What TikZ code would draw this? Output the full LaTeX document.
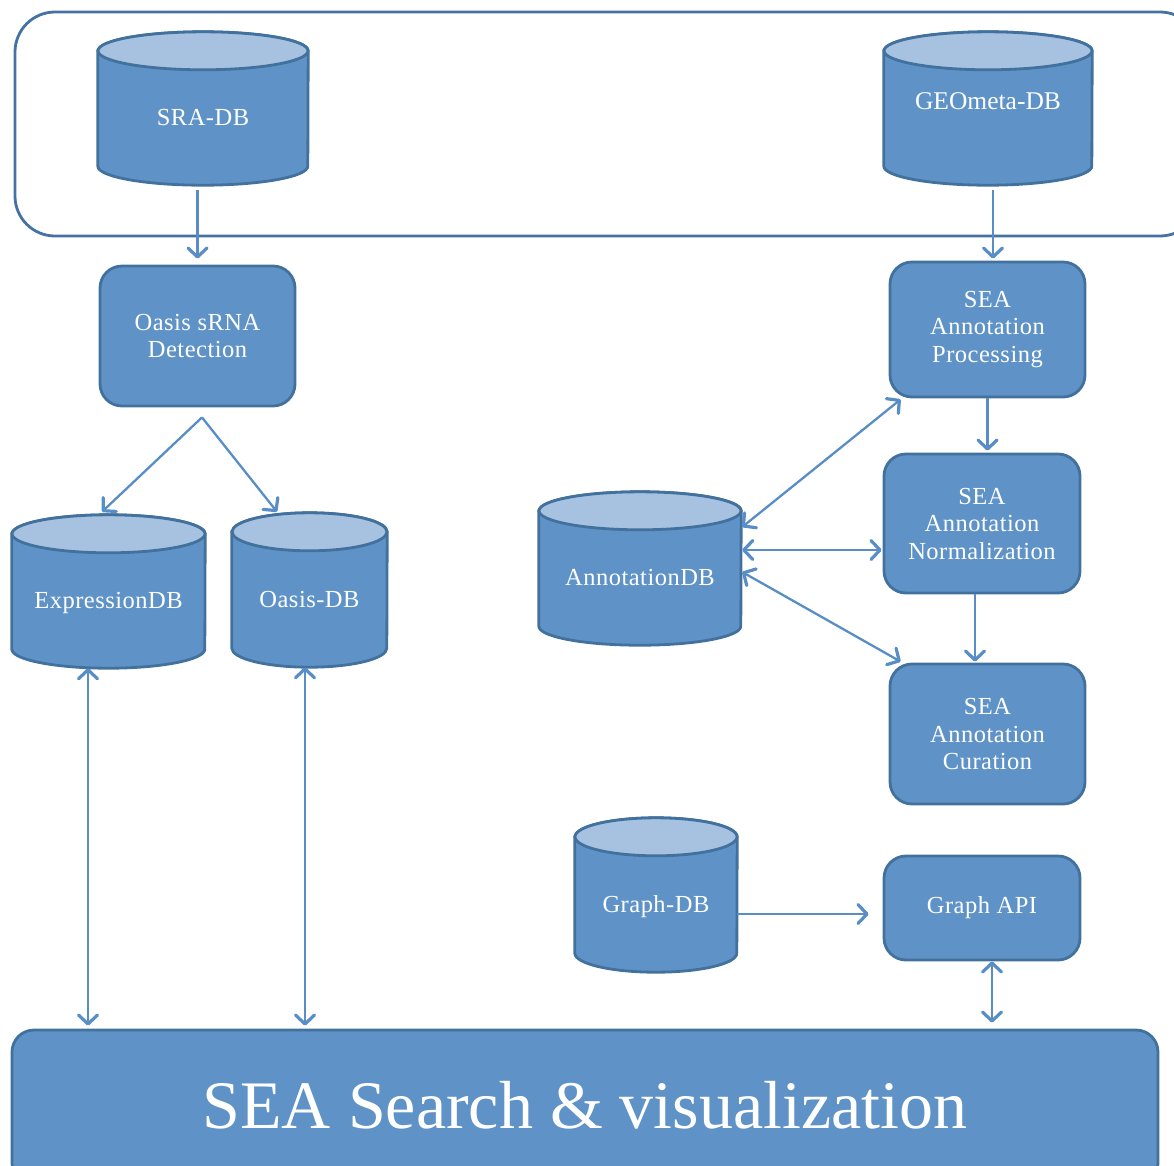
\documentclass[tikz,border=0pt]{standalone}
\usepackage{fontspec}
\setmainfont{Liberation Serif}
\newfontfamily\boxfont[LetterSpace=2]{Liberation Serif}
\usetikzlibrary{arrows.meta,backgrounds,calc}

\definecolor{bodyblue}{RGB}{95,147,199}
\definecolor{edgeblue}{RGB}{65,113,156}
\definecolor{capblue}{RGB}{167,193,224}
\definecolor{linkblue}{RGB}{88,141,198}
\definecolor{frameblue}{RGB}{68,114,163}

% cylinder outline behind a database node: #1 node name, #2 half width
\newcommand\dbdrum[2]{%
  \path[drumside] ([yshift=-19pt]#1.north west) -- ([yshift=19pt]#1.south west)
    arc[start angle=180, end angle=360, x radius=#2, y radius=19pt]
    -- ([yshift=-19pt]#1.north east)
    arc[start angle=0, end angle=180, x radius=#2, y radius=19pt] -- cycle;
  \path[drumcap] ([yshift=-19pt]#1.north) ellipse[x radius=#2, y radius=19pt];
}

\begin{document}
\begin{tikzpicture}[x=1pt,y=-1pt,
  every node/.style={text=white},
  stage/.style={draw=edgeblue, line width=2.8pt, fill=bodyblue,
    rounded corners=22pt, inner sep=0pt, align=center,
    font=\boxfont\fontsize{24.5}{27.5}\selectfont},
  db/.style={inner sep=0pt, text height=34pt, text depth=0pt,
    font=\boxfont\fontsize{24.5}{27.5}\selectfont},
  drumside/.style={draw=edgeblue, line width=2.8pt, fill=bodyblue},
  drumcap/.style={draw=edgeblue, line width=2.8pt, fill=capblue},
  barb/.tip={Straight Barb[length=9pt, width=19pt, line width=3.2pt, round]},
  link/.style={draw=linkblue, line width=2.3pt, -barb},
  twoway/.style={draw=linkblue, line width=2.3pt, barb-barb}]

\useasboundingbox (0,0) rectangle (1174,1165);
\clip (0,0) rectangle (1174,1165);

% process boxes
\node[stage, minimum width=195pt, minimum height=140pt] (oasis) at (197.5,336) {Oasis sRNA\\Detection};
\node[stage, minimum width=195pt, minimum height=135pt] (proc) at (987.5,329.5) {SEA\\Annotation\\Processing};
\node[stage, minimum width=196pt, minimum height=139pt] (norm) at (982,523.5) {SEA\\Annotation\\Normalization};
\node[stage, minimum width=195pt, minimum height=140pt] (cur) at (987.5,734) {SEA\\Annotation\\Curation};
\node[stage, minimum width=196pt, minimum height=104pt] (api) at (982,908) {Graph API};
\node[stage, minimum width=1146pt, minimum height=155pt, text height=46pt, text depth=5pt,
      font=\fontsize{68}{70}\selectfont] (search) at (585,1107.5) {SEA Search \& visualization};

% databases
\node[db, minimum width=210pt, minimum height=153pt] (sra) at (203,108.5) {SRA-DB};
\node[db, minimum width=208pt, minimum height=153pt, text height=2pt,
      font=\fontsize{25.5}{28}\selectfont] (geo) at (988,108.5) {GEOmeta-DB};
\node[db, minimum width=193pt, minimum height=153pt] (expr) at (108.5,591.5) {ExpressionDB};
\node[db, minimum width=155pt, minimum height=154pt] (oasisdb) at (309.5,590) {Oasis-DB};
\node[db, minimum width=202pt, minimum height=153pt] (annot) at (640,568.5) {AnnotationDB};
\node[db, minimum width=162pt, minimum height=154pt] (graphdb) at (656,895) {Graph-DB};

\begin{scope}[on background layer]
  \node[draw=frameblue, line width=2.8pt, rounded corners=40pt,
        minimum width=1185pt, minimum height=224pt] (sources) at (607.5,124) {};
  \dbdrum{sra}{105pt}
  \dbdrum{geo}{104pt}
  \dbdrum{expr}{96.5pt}
  \dbdrum{oasisdb}{77.5pt}
  \dbdrum{annot}{101pt}
  \dbdrum{graphdb}{81pt}
\end{scope}

% connectors
\draw[link] ($(sra.south -| oasis.north)+(0,5)$) -- ($(oasis.north)+(0,-6)$);
\draw[link] ($(geo.south)+(5,5)$) -- ($(proc.north)+(5.5,-2)$);
\draw[link] (proc.south) -- ($(norm.north -| proc.south)+(0,-2)$);
\draw[link] ($(norm.south)+(-7,0)$) -- ($(cur.north)+(-12.5,-1)$);

\coordinate (fork) at ($(oasis.south)+(4.5,10)$);
\draw[link] (fork) -- ($(expr.north)+(-6.5,-3)$);
\draw[link] (fork) -- ($(oasisdb.north)+(-32.5,-1)$);

\draw[twoway] ($(annot.east)+(1,-41.5)$) -- ($(proc.south west)+(12,1)$);
\draw[twoway] ($(annot.east)+(1,-18.5)$) -- ($(norm.west)+(-1,26.5)$);
\draw[twoway] ($(annot.east)+(1,3.5)$) -- ($(cur.north west)+(12,-1)$);

\draw[twoway] ($(expr.south)+(-20.5,0)$) -- ($(search.north -| expr.south)+(-20.5,-3)$);
\draw[twoway] ($(oasisdb.south)+(-4.5,0)$) -- ($(search.north -| oasisdb.south)+(-4.5,-3)$);

\draw[link] ($(graphdb.east)+(0,19)$) -- ($(api.west)+(-14,6)$);
\draw[twoway] ($(api.south)+(10,0)$) -- ($(search.north -| api.south)+(10,-6)$);
\end{tikzpicture}
\end{document}
